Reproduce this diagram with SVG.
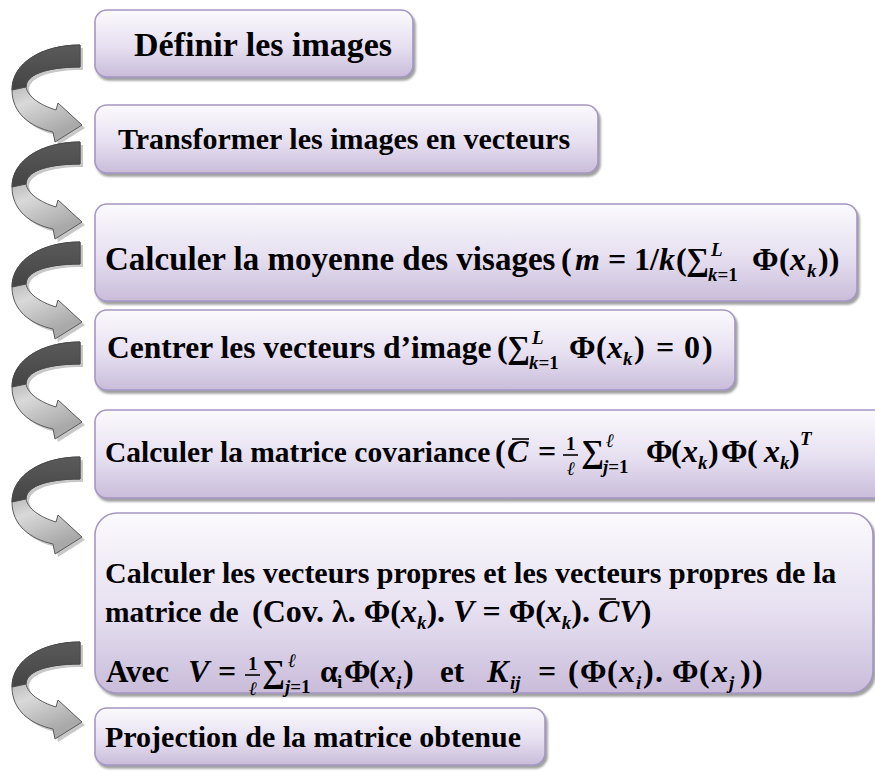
<svg xmlns="http://www.w3.org/2000/svg" width="875" height="774" viewBox="0 0 875 774">
<style>
.box{fill:url(#bg);stroke:#a597c2;stroke-width:1.6;filter:url(#sh)}
.t{font-family:"Liberation Serif","DejaVu Serif",serif;font-weight:bold;fill:#000}
.m{font-family:"Liberation Serif","DejaVu Serif",serif;font-weight:bold;font-size:32px;fill:#000}
.i{font-style:italic}
.s{font-size:19px}
.bar{stroke:#000;stroke-width:1.6}
.al{fill:url(#ag);stroke:#5b5b5b;stroke-width:1}
.ad{fill:url(#dg);stroke:#4a4a4a;stroke-width:1}
.as{fill:#9a9a9a;opacity:.55}
</style>
<defs>
<linearGradient id="bg" x1="0" y1="0" x2="0" y2="1">
<stop offset="0" stop-color="#fbfafd"/>
<stop offset="0.55" stop-color="#e6dff0"/>
<stop offset="1" stop-color="#c9bcda"/>
</linearGradient>
<linearGradient id="ag" x1="0" y1="0" x2="0.3" y2="1">
<stop offset="0" stop-color="#7c7c7c"/>
<stop offset="0.6" stop-color="#d9d9d9"/>
<stop offset="1" stop-color="#a9a9a9"/>
</linearGradient>
<linearGradient id="dg" x1="0" y1="0" x2="0" y2="1">
<stop offset="0" stop-color="#5a5a5a"/>
<stop offset="1" stop-color="#444"/>
</linearGradient>
<filter id="sh" x="-5%" y="-10%" width="115%" height="130%">
<feDropShadow dx="2" dy="3" stdDeviation="1.2" flood-color="#777" flood-opacity="0.7"/>
</filter>
<g id="arr">
<path class="as" transform="translate(3,3)" d="M0,0 C-38,0 -68,18 -68,45 C-68,68 -50,82 -27,87 L-25,97 L2,80 L-22,58 L-24,65 C-40,60 -52,52 -54,42 C-54,30 -35,22 0,22 Z"/>
<path class="al" d="M0,0 C-38,0 -68,18 -68,45 C-68,68 -50,82 -27,87 L-25,97 L2,80 L-22,58 L-24,65 C-40,60 -52,52 -54,42 C-54,30 -35,22 0,22 Z"/>
<path class="ad" d="M0,0 C-38,0 -68,18 -68,45 L-54,42 C-54,30 -35,22 0,22 Z"/>
</g>
</defs>
<rect width="875" height="774" fill="#fff"/>

<g id="connectors">
<use href="#arr" transform="translate(80,45)"/>
<use href="#arr" transform="translate(80,142)"/>
<use href="#arr" transform="translate(80,242)"/>
<use href="#arr" transform="translate(80,342)"/>
<use href="#arr" transform="translate(80,457)"/>
<use href="#arr" transform="translate(80,642)"/>
</g>

<g id="n1">
<rect class="box" x="95" y="10" width="318" height="67" rx="12"/>
<text class="t" x="134" y="56" font-size="34">Définir les images</text>
</g>

<g id="n2">
<rect class="box" x="95" y="105" width="503" height="68" rx="12"/>
<text class="t" x="118" y="149" font-size="30">Transformer les images en vecteurs</text>
</g>

<g id="n3">
<rect class="box" x="95" y="204" width="762" height="97" rx="12"/>
<text class="t" x="105" y="270" font-size="33">Calculer la moyenne des visages</text>
<text class="m"><tspan x="561" y="270">(</tspan><tspan class="i" x="575" y="270">m</tspan><tspan x="608" y="270">=</tspan><tspan x="634" y="270">1/</tspan><tspan class="i" x="659" y="270">k</tspan><tspan x="676" y="270">(</tspan><tspan x="686" y="270">∑</tspan></text>
<text class="m s i" x="711" y="256">L</text>
<text class="m s" x="708" y="281"><tspan class="i">k</tspan>=1</text>
<text class="m"><tspan x="752" y="270">Φ</tspan><tspan x="779" y="270">(</tspan><tspan class="i" x="790" y="270">x</tspan><tspan class="s i" x="807" y="277">k</tspan><tspan x="818" y="270">))</tspan></text>
</g>

<g id="n4">
<rect class="box" x="95" y="310" width="640" height="80" rx="12"/>
<text class="t" x="107" y="358" font-size="31.5">Centrer les vecteurs d’image</text>
<text class="m"><tspan x="497" y="358">(</tspan><tspan x="507" y="358">∑</tspan></text>
<text class="m s i" x="532" y="344">L</text>
<text class="m s" x="529" y="369"><tspan class="i">k</tspan>=1</text>
<text class="m"><tspan x="569" y="358">Φ</tspan><tspan x="596" y="358">(</tspan><tspan class="i" x="607" y="358">x</tspan><tspan class="s i" x="623" y="365">k</tspan><tspan x="634" y="358">)</tspan><tspan x="656" y="358">=</tspan><tspan x="684" y="358">0</tspan><tspan x="702" y="358">)</tspan></text>
</g>

<g id="n5">
<rect class="box" x="95" y="410" width="800" height="88" rx="12"/>
<text class="t" x="105" y="462" font-size="29.5">Calculer la matrice covariance</text>
<text class="m" font-size="31"><tspan x="495" y="462">(</tspan><tspan class="i" x="507" y="462">C</tspan><tspan x="538" y="462">=</tspan></text>
<line class="bar" x1="512" y1="439" x2="529" y2="439"/>
<text class="m s" x="566" y="450">1</text>
<line class="bar" x1="563" y1="455" x2="578" y2="455"/>
<text class="m s i" x="567" y="475">ℓ</text>
<text class="m" x="581" y="462">∑</text>
<text class="m s i" x="606" y="447">ℓ</text>
<text class="m s" x="603" y="473"><tspan class="i">j</tspan>=1</text>
<text class="m"><tspan x="646" y="462">Φ</tspan><tspan x="671" y="462">(</tspan><tspan class="i" x="682" y="462">x</tspan><tspan class="s i" x="698" y="469">k</tspan><tspan x="708" y="462">)</tspan><tspan x="721" y="462">Φ</tspan><tspan x="747" y="462">(</tspan><tspan class="i" x="764" y="462">x</tspan><tspan class="s i" x="780" y="469">k</tspan><tspan x="789" y="462">)</tspan><tspan class="s i" x="800" y="445">T</tspan></text>
</g>

<g id="n6">
<rect class="box" x="95" y="513" width="778" height="180" rx="22"/>
<text class="t" x="105" y="583" font-size="30">Calculer les vecteurs propres et les vecteurs propres de la</text>
<text class="t" x="105" y="622" font-size="29.5">matrice de</text>
<text class="m" x="252" y="622" font-size="30">(Cov. λ. Φ(<tspan class="i">x</tspan><tspan class="s i" dy="7">k</tspan><tspan dy="-7">). </tspan><tspan class="i">V</tspan> = Φ(<tspan class="i">x</tspan><tspan class="s i" dy="7">k</tspan><tspan dy="-7">). </tspan><tspan class="i">C</tspan><tspan class="i">V</tspan>)</text>
<line class="bar" x1="600" y1="599" x2="616" y2="599"/>
<text class="t" x="106" y="682" font-size="31">Avec</text>
<text class="m"><tspan class="i" x="188" y="682">V</tspan><tspan x="218" y="682">=</tspan></text>
<text class="m s" x="248" y="670">1</text>
<line class="bar" x1="245" y1="675" x2="260" y2="675"/>
<text class="m s i" x="249" y="695">ℓ</text>
<text class="m" x="262" y="682">∑</text>
<text class="m s i" x="288" y="667">ℓ</text>
<text class="m s" x="285" y="693"><tspan class="i">j</tspan>=1</text>
<text class="m"><tspan x="320" y="682">α</tspan><tspan class="s" x="337" y="688">i</tspan><tspan x="344" y="682">Φ</tspan><tspan x="369" y="682">(</tspan><tspan class="i" x="380" y="682">x</tspan><tspan class="s i" x="396" y="689">i</tspan><tspan x="403" y="682">)</tspan></text>
<text class="t" x="440" y="682" font-size="31">et</text>
<text class="m"><tspan class="i" x="487" y="682">K</tspan><tspan class="s i" x="510" y="689">ij</tspan><tspan x="538" y="682">=</tspan><tspan x="568" y="682">(</tspan><tspan x="580" y="682">Φ</tspan><tspan x="607" y="682">(</tspan><tspan class="i" x="619" y="682">x</tspan><tspan class="s i" x="636" y="689">i</tspan><tspan x="643" y="682">)</tspan><tspan x="655" y="682">.</tspan><tspan x="672" y="682">Φ</tspan><tspan x="699" y="682">(</tspan><tspan class="i" x="712" y="682">x</tspan><tspan class="s i" x="729" y="689">j</tspan><tspan x="740" y="682">)</tspan><tspan x="752" y="682">)</tspan></text>
</g>

<g id="n7">
<rect class="box" x="95" y="708" width="450" height="57" rx="12"/>
<text class="t" x="105" y="747" font-size="30">Projection de la matrice obtenue</text>
</g>
</svg>
